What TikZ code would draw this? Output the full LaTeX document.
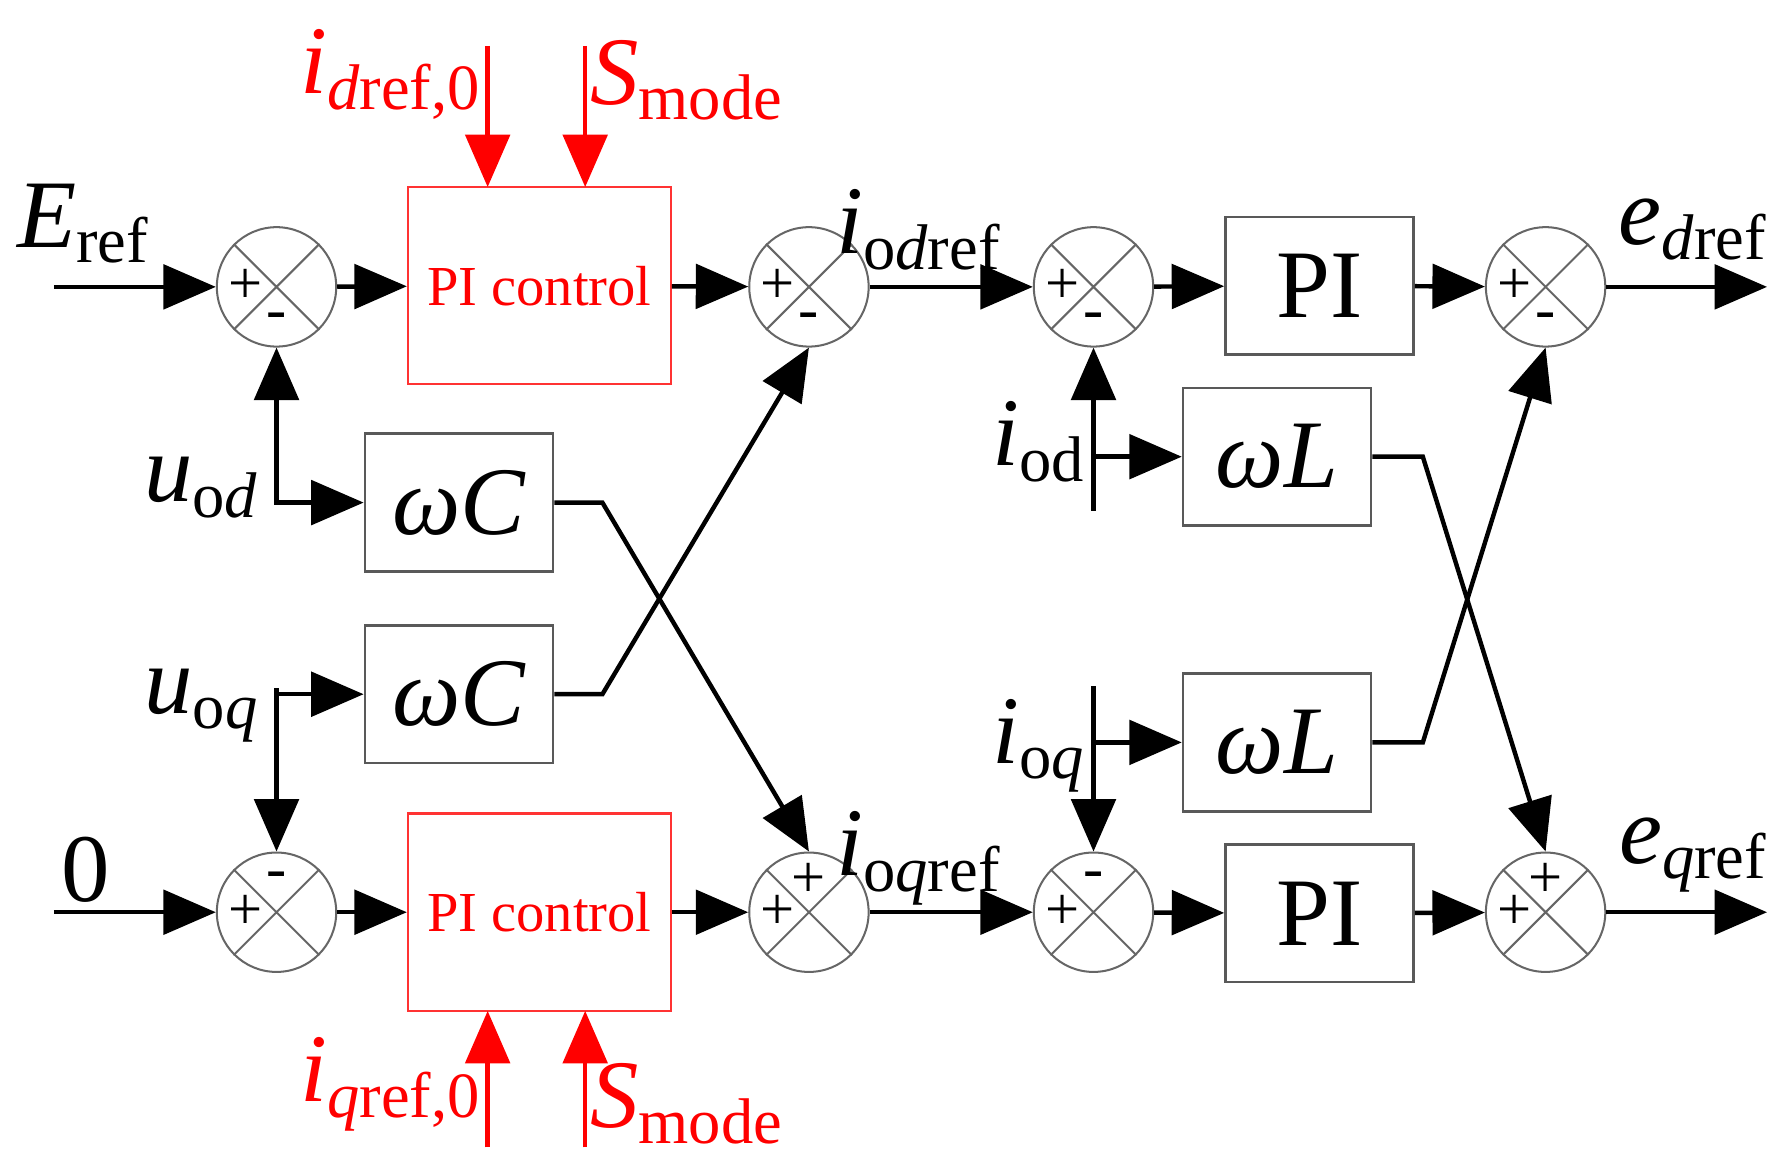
\documentclass[tikz,border=0pt]{standalone}
\usepackage{fontspec}
\setmainfont{Liberation Serif}
\usetikzlibrary{arrows.meta}
\newcommand{\lab}[3][black]{{\color{#1}\fontsize{24}{24}\selectfont\textit{#2}\raisebox{-0.35ex}{\fontsize{16}{16}\selectfont #3}}}
\begin{document}
\begin{tikzpicture}[x=0.01cm,y=-0.01cm,
 ar/.style={line width=1.1pt,-{Triangle[length=13pt,width=11pt]}},
 ln/.style={line width=1.1pt},
 sum/.style={circle,draw=gray!80!black,line width=0.5pt,minimum size=1.04cm,inner sep=0pt},
 blk/.style={draw=gray!70!black,line width=0.6pt,minimum width=1.64cm,minimum height=1.2cm,inner sep=0pt,font=\fontsize{24}{24}\selectfont},
 pic/.style={draw=red!80,line width=0.5pt,minimum width=2.29cm,minimum height=1.72cm,text=red,font=\fontsize{14}{14}\selectfont},
 sg/.style={font=\fontsize{15}{15}\selectfont,inner sep=0pt}]
\useasboundingbox (0,0) rectangle (1560,1011);
% sums
\foreach \n/\x/\y in {s1/241/250,s2/705/250,s3/953/250,s4/1347/250,t1/241/795,t2/705/795,t3/953/795,t4/1347/795}{
 \node[sum] (\n) at (\x,\y) {};
 \draw[gray!80!black,line width=0.5pt] (\n.north east)--(\n.south west) (\n.north west)--(\n.south east);}
\foreach \n in {s1,s2,s3,s4}{\node[sg] at ([xshift=-0.27cm]\n.center){+};\node[sg] at ([yshift=-0.3cm]\n.center){-};}
\foreach \n in {t1,t3}{\node[sg] at ([xshift=-0.27cm]\n.center){+};\node[sg] at ([yshift=0.28cm]\n.center){-};}
\foreach \n in {t2,t4}{\node[sg] at ([xshift=-0.27cm]\n.center){+};\node[sg] at ([yshift=0.28cm]\n.center){+};}
% blocks
\node[pic] (pc1) at (470,249) {PI control};
\node[pic] (pc2) at (470,795) {PI control};
\node[blk] (pi1) at (1150,249) {PI};
\node[blk] (pi2) at (1150,796) {PI};
\node[blk] (wc1) at (400,438) {\textit{ω}\textit{C}};
\node[blk] (wc2) at (400,605) {\textit{ω}\textit{C}};
\node[blk] (wl1) at (1113,398) {\textit{ω}\textit{L}};
\node[blk] (wl2) at (1113,647) {\textit{ω}\textit{L}};
% coordinates
\coordinate (ein) at (47,250); \coordinate (zin) at (47,795);
\coordinate (ed) at (1540,250); \coordinate (eq) at (1540,795);
\coordinate (ud) at (241,440); \coordinate (uq) at (241,600);
\coordinate (id) at (953,445); \coordinate (iq) at (953,598);
% main paths
\draw[ar] (ein)--(s1); \draw[ar] (s1)--(pc1); \draw[ar] (pc1)--(s2); \draw[ar] (s2)--(s3); \draw[ar] (s3)--(pi1); \draw[ar] (pi1)--(s4); \draw[ar] (s4)--(ed);
\draw[ar] (zin)--(t1); \draw[ar] (t1)--(pc2); \draw[ar] (pc2)--(t2); \draw[ar] (t2)--(t3); \draw[ar] (t3)--(pi2); \draw[ar] (pi2)--(t4); \draw[ar] (t4)--(eq);
% feedbacks
\draw[ar] (ud)--(s1); \draw[ar] (241,438)--(wc1);
\draw[ar] (uq)--(t1); \draw[ar] (241,605)--(wc2);
\draw[ar] (id)--(s3); \draw[ar] (953,398)--(wl1);
\draw[ar] (iq)--(t3); \draw[ar] (953,647)--(wl2);
% crosses
\draw[ar] (wc1.east)--(525,438)--(t2.north);
\draw[ar] (wc2.east)--(525,605)--(s2.south);
\draw[ar] (wl1.east)--(1240,398)--(t4.north);
\draw[ar] (wl2.east)--(1240,647)--(s4.south);
% red inputs
\draw[ar,red] (425,40)--(425,163); \draw[ar,red] (510,40)--(510,163);
\draw[ar,red] (425,1000)--(425,881); \draw[ar,red] (510,1000)--(510,881);
% labels
\node at (72,195) {\lab{E}{ref}};
\node at (75,758) {\fontsize{24}{24}\selectfont 0};
\node at (175,425) {\lab{u}{o\textit{d}}};
\node at (175,615) {\lab{u}{o\textit{q}}};
\node at (905,385) {\lab{i}{od}};
\node at (905,650) {\lab{i}{o\textit{q}}};
\node at (800,200) {\lab{i}{o\textit{d}ref}};
\node at (800,748) {\lab{i}{o\textit{q}ref}};
\node at (1475,200) {\lab{e}{\textit{d}ref}};
\node at (1475,745) {\lab{e}{\textit{q}ref}};
\node at (340,65) {\lab[red]{i}{\textit{d}ref,0}};
\node at (340,945) {\lab[red]{i}{\textit{q}ref,0}};
\node at (598,70) {\lab[red]{S}{mode}};
\node at (598,962) {\lab[red]{S}{mode}};
\end{tikzpicture}
\end{document}
